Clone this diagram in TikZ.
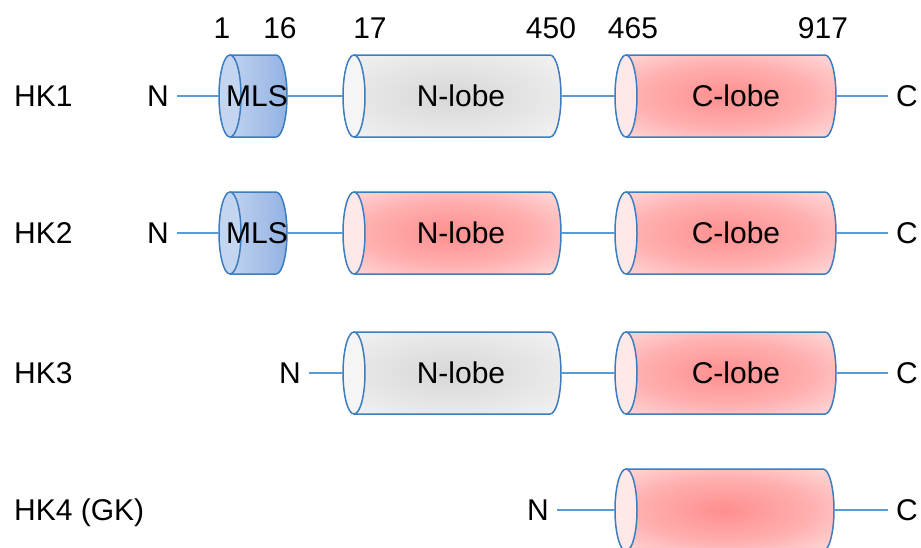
\documentclass[tikz,border=0pt]{standalone}
\usepackage{fontspec}
\setmainfont{Liberation Sans}
\definecolor{rimblue}{HTML}{3C7DC0}
\definecolor{linkblue}{HTML}{5B9BD5}
\definecolor{pkc}{HTML}{FF8E8E}
\definecolor{pkm}{HTML}{FFB0B0}
\definecolor{pke}{HTML}{FFDADA}
\definecolor{pkend}{HTML}{FFE8E8}
\definecolor{gyc}{HTML}{D8D6D6}
\definecolor{gye}{HTML}{F2F2F2}
\definecolor{gyend}{HTML}{F5F5F5}
\definecolor{blL}{HTML}{C9D9F2}
\definecolor{blR}{HTML}{93B2E3}
\definecolor{blend}{HTML}{C4D5F0}
\pgfdeclareradialshading{pinkglow}{\pgfpoint{0bp}{0bp}}{color(0bp)=(pkc); color(20bp)=(pkm); color(35bp)=(pke); color(50bp)=(pke)}
\pgfdeclareradialshading{grayglow}{\pgfpoint{0bp}{0bp}}{color(0bp)=(gyc); color(35bp)=(gye); color(50bp)=(gye)}
\tikzset{
  txt/.style={font=\fontsize{30}{36}\selectfont, inner sep=0pt, text height=21.5pt, text depth=0pt},
  term/.style={txt, inner xsep=8pt},
  cylout/.style={draw=rimblue, line width=1.5pt},
  link/.style={draw=linkblue, line width=1.5pt},
  pinkbody/.style={shading=pinkglow},
  graybody/.style={shading=grayglow},
  bluebody/.style={left color=blL, right color=blR},
}
% name, x1, x2, y, body style, end colour, label x, label
\newcommand\cyl[8]{%
  \path[#5] (#2,{#4-41}) -- (#3,{#4-41})
     arc[start angle=-90,end angle=90,x radius=11,y radius=41]
     -- (#2,{#4+41})
     arc[start angle=90,end angle=270,x radius=11,y radius=41] -- cycle;
  \draw[cylout] (#2,{#4-41}) -- (#3,{#4-41})
     arc[start angle=-90,end angle=90,x radius=11,y radius=41]
     -- (#2,{#4+41});
  \draw[cylout, fill=#6] (#2,#4) ellipse [x radius=11, y radius=41];
  \coordinate (#1w) at ({#2-11},#4);
  \coordinate (#1e) at ({#3+11},#4);
  \node[txt] (#1) at (#7,#4) {#8};
}
\begin{document}
\begin{tikzpicture}[x=1pt,y=-1pt]
\clip (0,0) rectangle (921,547);
% residue numbers
\node[txt] (r1) at (222,28) {1};
\node[txt] (r16) at (280,28) {16};
\node[txt] (r17) at (370,28) {17};
\node[txt] (r450) at (551,28) {450};
\node[txt] (r465) at (633,28) {465};
\node[txt] (r917) at (823,28) {917};
% row labels
\node[txt, anchor=west] (hkA) at (14,96) {HK1};
\node[txt, anchor=west] (hkB) at (14,233) {HK2};
\node[txt, anchor=west] (hkC) at (14,373) {HK3};
\node[txt, anchor=west] (hkD) at (14,510) {HK4 (GK)};
% HK1
\cyl{mlsA}{230}{276}{96}{bluebody}{blend}{257}{MLS}
\cyl{nlA}{354}{550}{96}{graybody}{gyend}{461}{N-lobe}
\cyl{clA}{626}{825}{96}{pinkbody}{pkend}{736}{C-lobe}
\node[term] (nA) at (158,96) {N};
\node[term] (cA) at (907,96) {C};
\draw[link] (nA) -- (mlsAw);
\draw[link] (mlsAe) -- (nlAw);
\draw[link] (nlAe) -- (clAw);
\draw[link] (clAe) -- (cA);
% HK2
\cyl{mlsB}{230}{276}{233}{bluebody}{blend}{257}{MLS}
\cyl{nlB}{354}{550}{233}{pinkbody}{pkend}{461}{N-lobe}
\cyl{clB}{626}{825}{233}{pinkbody}{pkend}{736}{C-lobe}
\node[term] (nB) at (158,233) {N};
\node[term] (cB) at (907,233) {C};
\draw[link] (nB) -- (mlsBw);
\draw[link] (mlsBe) -- (nlBw);
\draw[link] (nlBe) -- (clBw);
\draw[link] (clBe) -- (cB);
% HK3
\cyl{nlC}{354}{550}{373}{graybody}{gyend}{461}{N-lobe}
\cyl{clC}{626}{825}{373}{pinkbody}{pkend}{736}{C-lobe}
\node[term] (nC) at (290,373) {N};
\node[term] (cC) at (907,373) {C};
\draw[link] (nC) -- (nlCw);
\draw[link] (nlCe) -- (clCw);
\draw[link] (clCe) -- (cC);
% HK4
\cyl{clD}{626}{823}{510}{pinkbody}{pkend}{736}{}
\node[term] (nD) at (538,510) {N};
\node[term] (cD) at (907,510) {C};
\draw[link] (nD) -- (clDw);
\draw[link] (clDe) -- (cD);
\end{tikzpicture}
\end{document}
